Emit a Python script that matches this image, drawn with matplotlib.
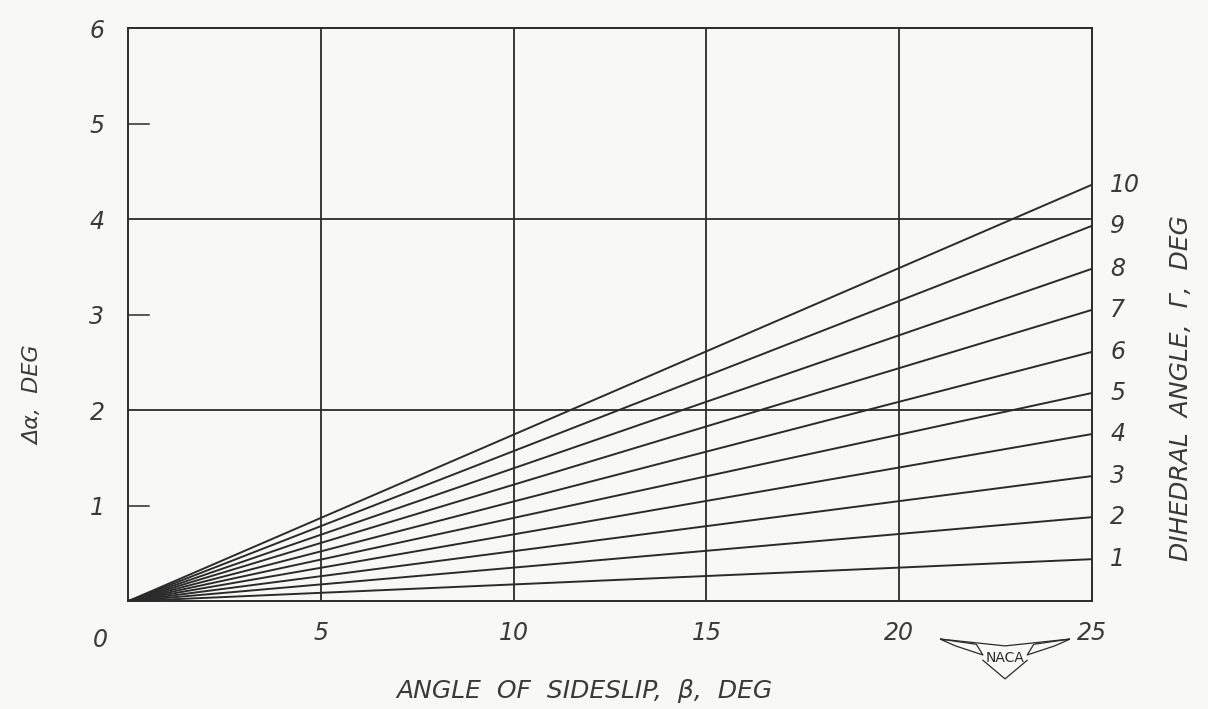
import matplotlib
matplotlib.use("Agg")
import matplotlib.pyplot as plt
import numpy as np

# dihedral angle (deg) and the value of delta-alpha each line reaches at beta = 25 deg
dihedral = [1, 2, 3, 4, 5, 6, 7, 8, 9, 10]
delta_alpha_at_25 = [0.44, 0.88, 1.31, 1.75, 2.18, 2.61, 3.05, 3.48, 3.93, 4.36]
beta_range = [0, 25]

x_ticks = [5, 10, 15, 20, 25]
y_ticks = [1, 2, 3, 4, 5, 6]
grid_x = [5, 10, 15, 20]
grid_y = [2, 4]
minor_y = [1, 3, 5]

INK = "#2b2b2b"
TEXT = "#3a3a3a"
PAPER = "#f8f8f6"
FONT = dict(family="DejaVu Sans", style="italic", color=TEXT)

fig = plt.figure(figsize=(12.08, 7.09), dpi=100, facecolor=PAPER)
ax = fig.add_axes([0.106, 0.152, 0.798, 0.8085], facecolor=PAPER)

for gx in grid_x:
    ax.axvline(gx, color=INK, linewidth=1.3)
for gy in grid_y:
    ax.axhline(gy, color=INK, linewidth=1.3)

for d, yend in zip(dihedral, delta_alpha_at_25):
    ax.plot(beta_range, [0, yend], color=INK, linewidth=1.4, solid_capstyle="butt")
    ax.annotate(str(d), xy=(beta_range[1], yend), xytext=(13, 0),
                textcoords="offset points", va="center", ha="left",
                fontsize=17, **FONT)

ax.set_xlim(0, 25)
ax.set_ylim(0, 6)
for s in ax.spines.values():
    s.set_color(INK)
    s.set_linewidth(1.4)

ax.set_xticks(x_ticks)
ax.set_xticklabels([str(v) for v in x_ticks], fontsize=17, **FONT)
ax.set_yticks(y_ticks)
ax.set_yticklabels([str(v) for v in y_ticks], fontsize=17, **FONT)
ax.tick_params(axis="x", length=0, pad=14)
ax.tick_params(axis="y", length=0, pad=17)
for my in minor_y:
    ax.plot([0, 0.55], [my, my], color=INK, linewidth=1.1)

# corner zero label
ax.annotate("0", xy=(0, 0), xytext=(-20, -28), textcoords="offset points",
            ha="center", va="center", fontsize=17, **FONT)

ax.set_xlabel("ANGLE  OF  SIDESLIP,  β,  DEG", fontsize=18, **FONT)
ax.xaxis.set_label_coords(0.473, -0.135)
ax.set_ylabel("Δα,  DEG", fontsize=16, **FONT)
ax.yaxis.set_label_coords(-0.088, 0.36)

fig.text(0.978, 0.452, "DIHEDRAL  ANGLE,  Γ,  DEG", rotation=90, ha="center",
         va="center", fontsize=18, **FONT)

# NACA wing badge
badge = fig.add_axes([0.778, 0.035, 0.108, 0.075], facecolor="none")
badge.set_axis_off()
badge.set_xlim(0, 1)
badge.set_ylim(0, 1)
wing_l = [(0.0, 0.85), (0.28, 0.75), (0.33, 0.55), (0.12, 0.72), (0.0, 0.85)]
wing_r = [(1.0, 0.85), (0.72, 0.75), (0.67, 0.55), (0.88, 0.72), (1.0, 0.85)]
for w in (wing_l, wing_r):
    badge.plot([p[0] for p in w], [p[1] for p in w], color=INK, linewidth=0.9)
badge.plot([0.0, 0.5, 1.0], [0.85, 0.72, 0.85], color=INK, linewidth=0.9)
badge.plot([0.33, 0.5, 0.67], [0.45, 0.1, 0.45], color=INK, linewidth=0.9)
badge.text(0.5, 0.5, "NACA", ha="center", va="center", fontsize=10,
           color=INK, family="DejaVu Sans")

fig.savefig("out.png", dpi=100, facecolor=PAPER)
